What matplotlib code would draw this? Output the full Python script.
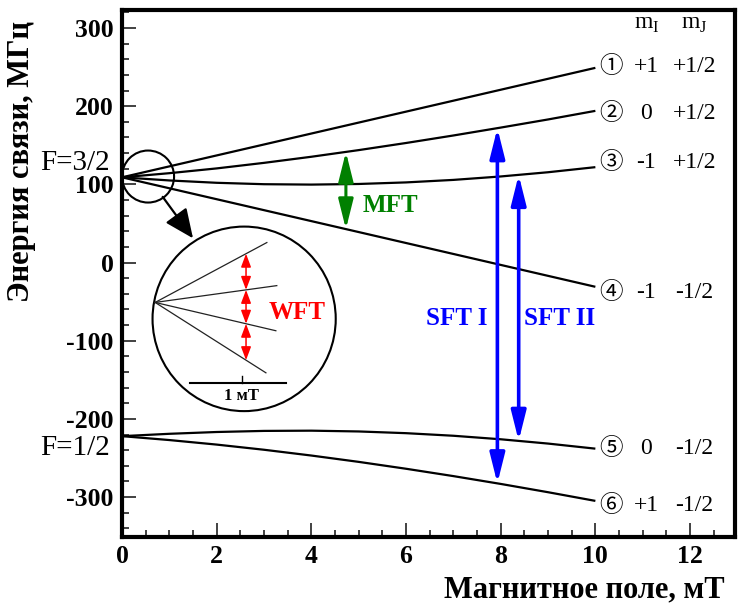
import numpy as np
import matplotlib.pyplot as plt
from matplotlib.patches import Ellipse

plt.rcParams['font.family'] = ['Liberation Serif', 'DejaVu Sans']
plt.rcParams['axes.unicode_minus'] = False

# field values (mT) and level energies (MHz)
field = [0, 1, 2, 3, 4, 5, 6, 7, 8, 9, 10]
level1 = [109, 123, 137, 151, 165, 179, 193, 207, 221, 235, 249]
level2 = [109, 114.3, 120.4, 127.5, 135.3, 143.8, 152.9, 162.5, 172.6, 183, 194]
level3 = [109, 105, 102, 100.2, 99.7, 100.5, 102.5, 105.7, 110.1, 115.5, 122]
level4 = [109, 95, 81, 67, 53, 39, 25, 11, -3, -17, -31]
level5 = [-222, -219, -216.7, -215.3, -215, -216, -218.2, -221.5, -226, -231.5, -238]
level6 = [-222, -227, -232.8, -239.4, -246.8, -254.9, -263.7, -273.1, -283.1, -293.7, -304.8]
levels = [level1, level2, level3, level4, level5, level6]

state_marks = ['①', '②', '③', '④', '⑤', '⑥']
m_i = ['+1', '0', '-1', '-1', '0', '+1']
m_j = ['+1/2', '+1/2', '+1/2', '-1/2', '-1/2', '-1/2']
label_y = [251, 191, 128, -38, -238, -311]

# zoomed inset (schematic weak-field splitting)
inset_start = (0.70, -51)
inset_end_x = [3.06, 3.27, 3.25, 3.04]
inset_end_y = [25.6, -29.5, -87.2, -141]
wft_x = 2.62

# transitions: (field, upper level index, lower level index)
mft = (4.73, 1, 3)
sft1 = (7.93, 1, 5)
sft2 = (8.38, 2, 4)

fig = plt.figure(figsize=(7.39, 6.09), dpi=100)
ax = fig.add_axes([0.1651, 0.1182, 0.8295, 0.8654])

for lev in levels:
    ax.plot(field, lev, color='black', lw=1.6, solid_capstyle='butt')

ax.set_xlim(0, 12.95)
ax.set_ylim(-351, 323)
ax.set_xticks(np.arange(0, 13, 2))
ax.set_xticks(np.arange(0, 13, 0.5), minor=True)
ax.set_yticks(np.arange(-300, 301, 100))
ax.set_yticks(np.arange(-340, 321, 20), minor=True)
ax.tick_params(which='both', direction='in', width=1.3, color='#333333')
ax.tick_params(which='major', length=10, labelsize=18.5, pad=6)
ax.tick_params(which='minor', length=5)
for lab in ax.get_xticklabels() + ax.get_yticklabels():
    lab.set_fontweight('bold')
for sp in ax.spines.values():
    sp.set_linewidth(3)

fig.text(725 / 739, 1 - 590 / 609, 'Магнитное поле, мТ', ha='right', va='center',
         fontsize=22, fontweight='bold')
fig.text(22 / 739, 1 - 162 / 609, 'Энергия связи, МГц', ha='center', va='center',
         rotation=90, fontsize=22, fontweight='bold')


def arrow(x, y1, y2, color, lw, hl, hw):
    ax.annotate('', xy=(x, y2), xytext=(x, y1),
                arrowprops=dict(arrowstyle=f'<|-|>,head_length={hl},head_width={hw}',
                                color=color, lw=lw, shrinkA=0, shrinkB=0,
                                mutation_scale=10))


for (b, up, lo), col in [(mft, 'green'), (sft1, 'blue'), (sft2, 'blue')]:
    y_up = np.interp(b, field, levels[up])
    y_lo = np.interp(b, field, levels[lo])
    arrow(b, y_up, y_lo, col, 2.6 if col == 'blue' else 2.2, 1.8, 0.45)

ax.text(5.08, 73, 'MFT', color='green', fontsize=18, fontweight='bold', va='center')
ax.text(7.72, -71, 'SFT I', color='blue', fontsize=18, fontweight='bold',
        va='center', ha='right')
ax.text(8.50, -71, 'SFT II', color='blue', fontsize=18, fontweight='bold', va='center')

# level labels
for mark, a, b, y in zip(state_marks, m_i, m_j, label_y):
    ax.text(10.34, y, mark, fontsize=17, ha='center', va='center',
            family=['Noto Sans CJK JP', 'DejaVu Sans'])
    ax.text(11.08, y, a, fontsize=17, ha='center', va='center')
    ax.text(12.09, y, b, fontsize=17, ha='center', va='center')
ax.text(11.08, 304, r'm$_\mathregular{I}$', fontsize=17, ha='center', va='center')
ax.text(12.09, 304, r'm$_\mathregular{J}$', fontsize=17, ha='center', va='center')

fig.text(110 / 739, 1 - 163 / 609, 'F=3/2', ha='right', va='center', fontsize=21)
fig.text(110 / 739, 1 - 448 / 609, 'F=1/2', ha='right', va='center', fontsize=21)

# small circle, pointer and magnified inset
ax.add_patch(Ellipse((0.55, 110), 1.10, 66.5, fill=False, lw=1.5, color='black'))
ax.annotate('', xy=(1.50, 31), xytext=(0.86, 84),
            arrowprops=dict(arrowstyle='-|>,head_length=1.8,head_width=0.8',
                            color='black', lw=1.6, shrinkA=0, shrinkB=0,
                            mutation_scale=10))
ax.add_patch(Ellipse((2.58, -72), 3.87, 236, fill=False, lw=1.5, color='black'))

inset_at_wft = []
for ex, ey in zip(inset_end_x, inset_end_y):
    ax.plot([inset_start[0], ex], [inset_start[1], ey], color='#222222', lw=0.9)
    inset_at_wft.append(np.interp(wft_x, [inset_start[0], ex], [inset_start[1], ey]))
for y1, y2 in zip(inset_at_wft[:-1], inset_at_wft[1:]):
    ax.annotate('', xy=(wft_x, y2), xytext=(wft_x, y1),
                arrowprops=dict(arrowstyle='<|-|>,head_length=0.8,head_width=0.3',
                                color='red', lw=1.1, shrinkA=0, shrinkB=0,
                                mutation_scale=10))
ax.text(3.69, -64, 'WFT', color='red', fontsize=18, fontweight='bold',
        ha='center', va='center')

ax.plot([1.43, 3.46], [-154, -154], color='black', lw=1.5)
ax.plot([2.53, 2.53], [-154, -145], color='black', lw=1.0)
ax.text(2.53, -171, '1 мT', fontsize=12, fontweight='bold', ha='center', va='center')

fig.savefig('out.png', dpi=100)
